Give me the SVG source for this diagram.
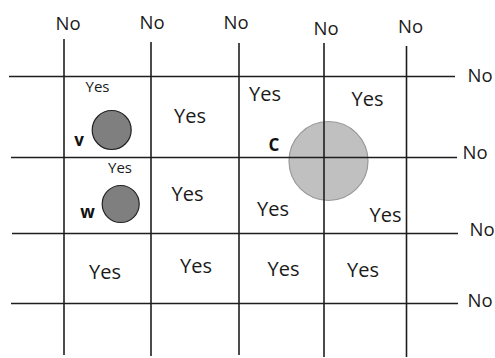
<svg xmlns="http://www.w3.org/2000/svg" width="495" height="358" viewBox="0 0 495 358">
<style>
.ln{stroke:#1e1e1e;stroke-width:1.6;fill:none}
.t{font-family:"Open Sans","Noto Sans",sans-serif;fill:#1a1a1a;text-anchor:middle}
.no{font-size:18.5px}
.big{font-size:20px}
.sm{font-size:15px}
.lbl{font-family:"Open Sans","Noto Sans",sans-serif;font-weight:bold;font-size:17px;fill:#111;text-anchor:middle}
.dark{fill:#7f7f7f;stroke:#222;stroke-width:1.2}
.light{fill:#c0c0c0;stroke:#999;stroke-width:1.2}
</style>
<rect width="495" height="358" fill="#fff"/>
<g id="circle-c"><circle class="light" cx="328.5" cy="161" r="39.5"/><text class="lbl" x="274" y="150.5">C</text></g>
<g id="connectors">
<line class="ln" x1="64" y1="39" x2="64" y2="355"/>
<line class="ln" x1="151" y1="42" x2="151" y2="356"/>
<line class="ln" x1="239" y1="43" x2="239" y2="355"/>
<line class="ln" x1="324" y1="43" x2="324" y2="357"/>
<line class="ln" x1="406.5" y1="46" x2="406.5" y2="357"/>
<line class="ln" x1="9" y1="76.5" x2="455" y2="76.5"/>
<line class="ln" x1="11" y1="157.5" x2="457" y2="157.5"/>
<line class="ln" x1="12" y1="233.5" x2="458" y2="233.5"/>
<line class="ln" x1="11" y1="303.5" x2="458" y2="303.5"/>
</g>
<g id="circle-v"><circle class="dark" cx="111.7" cy="130" r="19.5"/><text class="lbl" x="79" y="145.5">v</text></g>
<g id="circle-w"><circle class="dark" cx="120.7" cy="204" r="18.5"/><text class="lbl" x="87.5" y="217.5">w</text></g>
<g id="labels-top">
<text class="t no" x="68" y="30">No</text>
<text class="t no" x="152" y="28.5">No</text>
<text class="t no" x="236" y="28.5">No</text>
<text class="t no" x="326" y="34.5">No</text>
<text class="t no" x="410.5" y="32.5">No</text>
</g>
<g id="labels-right">
<text class="t no" x="480" y="81.5">No</text>
<text class="t no" x="475" y="159">No</text>
<text class="t no" x="482" y="236">No</text>
<text class="t no" x="480" y="306.5">No</text>
</g>
<g id="labels-cells">
<text class="t sm" x="97.5" y="92">Yes</text>
<text class="t big" x="190" y="122.5">Yes</text>
<text class="t big" x="265" y="100.5">Yes</text>
<text class="t big" x="367.5" y="106">Yes</text>
<text class="t sm" x="120" y="173">Yes</text>
<text class="t big" x="187.5" y="201">Yes</text>
<text class="t big" x="273" y="215.5">Yes</text>
<text class="t big" x="385.5" y="221.5">Yes</text>
<text class="t big" x="105" y="279">Yes</text>
<text class="t big" x="196" y="272.5">Yes</text>
<text class="t big" x="283.5" y="275.5">Yes</text>
<text class="t big" x="363" y="276.5">Yes</text>
</g>
</svg>
